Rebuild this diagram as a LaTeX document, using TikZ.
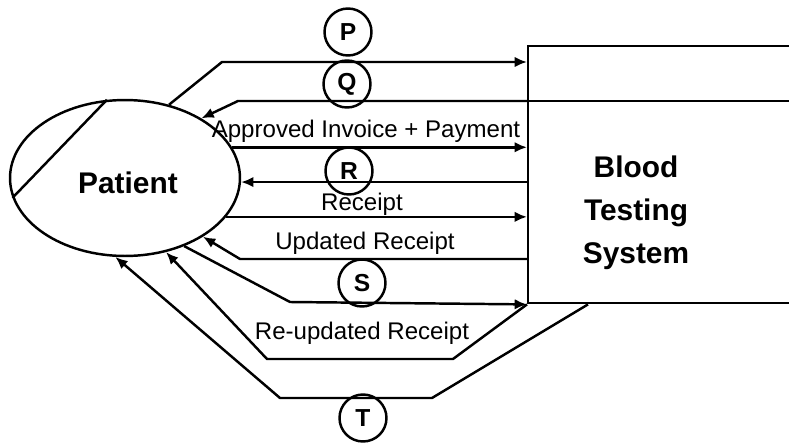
\documentclass[tikz,border=0pt]{standalone}
\usepackage{fontspec}
\setmainfont{Liberation Sans}
\usetikzlibrary{calc,arrows.meta,shapes.geometric}
\tikzset{
  flow/.style={-{Latex[length=7pt,width=6pt]}},
  lbl/.style={inner sep=1pt,font=\fontsize{13.7}{16}\selectfont},
  tag/.style={circle,draw,minimum size=0.94cm,inner sep=0pt,font=\fontsize{14}{16}\selectfont\bfseries}
}

\begin{document}
\begin{tikzpicture}[x=0.02cm,y=-0.02cm,line width=1.4pt]
\useasboundingbox (0,0) rectangle (789,443);
\node[ellipse,draw,minimum width=4.6cm,minimum height=3.12cm,inner sep=0pt] (pat) at (125,178) {};
\node[font=\fontsize{17}{20}\selectfont\bfseries] (patname) at (128,183) {Patient};
\draw (pat.103) -- (pat.190);
\node[draw,anchor=north west,minimum width=5.4cm,minimum height=5.14cm] (bts) at (527,45) {};
\draw (bts.west |- 0,101) -- (bts.east |- 0,101);
\node[align=center,font=\fontsize{17}{24.5}\selectfont\bfseries] (btsname) at (636,213) {Blood\\Testing\\System};
\draw[flow] (pat.59) -- (222,62) -- (bts.west |- 0,62);
\draw[flow] (bts.west |- 0,101) -- (238,101) -- (pat.38);
\draw[flow] (pat.16) -- (bts.west |- pat.16);
\draw[flow] (bts.west |- pat.-2) -- (pat.-2);
\draw[flow] (pat.-21) -- (bts.west |- pat.-21);
\draw[flow] (bts.west |- 0,259) -- (240,259) -- (pat.-37);
\draw[flow] (pat.-49) -- (290,302) -- (bts.south west);
\draw[flow] (bts.south west) -- (453,359) -- (267,359) -- (pat.-61);
\draw[flow] ($(bts.south west)+(61,0)$) -- (432,398) -- (280,398) -- (pat.-97);
\node[lbl] (lapp) at (366,131) {Approved Invoice + Payment};
\node[lbl] (lrec) at (362,204) {Receipt};
\node[lbl] (lupd) at (365,243) {Updated Receipt};
\node[lbl] (lreu) at (362,333) {Re-updated Receipt};
\node[tag] (tp) at (348,32) {P};
\node[tag] (tq) at (347,84) {Q};
\node[tag] (tr) at (349,171) {R};
\node[tag] (ts) at (362,283) {S};
\node[tag] (tt) at (363,418) {T};
\end{tikzpicture}
\end{document}
